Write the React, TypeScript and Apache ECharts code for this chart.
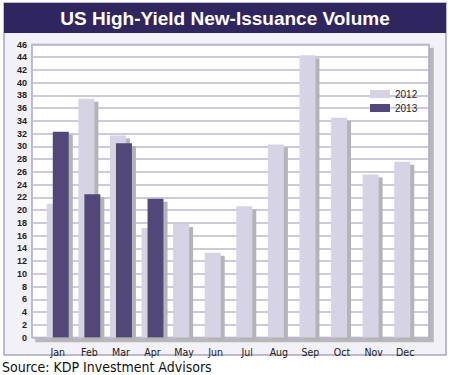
import React, { useEffect, useRef } from "react";
import * as echarts from "echarts";

const months = ["Jan", "Feb", "Mar", "Apr", "May", "Jun", "Jul", "Aug", "Sep", "Oct", "Nov", "Dec"];
const vol2012 = [21.0, 37.5, 31.7, 17.2, 17.8, 13.3, 20.6, 30.3, 44.3, 34.5, 25.6, 27.6];
const vol2013 = [32.3, 22.5, 30.5, 21.8, null, null, null, null, null, null, null, null];
const yMin = 0;
const yMax = 46;
const yStep = 2;

export default function App() {
  const ref = useRef<HTMLDivElement>(null);
  useEffect(() => {
    document.body.style.margin = "0";
    const chart = echarts.init(ref.current!, null, { renderer: "svg" });
    const shadow = { shadowColor: "#b4b4b4", shadowOffsetX: 4, shadowOffsetY: 3, shadowBlur: 0 };
    chart.setOption({
      animation: false,
      backgroundColor: "#ffffff",
      graphic: [
        {
          type: "rect",
          z: -100,
          shape: { x: 4, y: 3, width: 442, height: 352 },
          style: { fill: "#f2f1f7", stroke: "#a9a4c8", lineWidth: 1.5 },
        },
        {
          type: "rect",
          z: -90,
          shape: { x: 4, y: 3, width: 442, height: 30 },
          style: { fill: "#30265f" },
        },
        {
          type: "text",
          x: 225,
          y: 18,
          style: {
            text: "US High-Yield New-Issuance Volume",
            fill: "#ffffff",
            font: "bold 19px 'Liberation Sans', Arial, sans-serif",
            textAlign: "center",
            textVerticalAlign: "middle",
          },
        },
        {
          type: "text",
          x: 2,
          y: 367,
          style: {
            text: "Source: KDP Investment Advisors",
            fill: "#111111",
            font: "14px 'DejaVu Sans Condensed', sans-serif",
            textAlign: "left",
            textVerticalAlign: "middle",
          },
        },
      ],
      legend: {
        orient: "vertical",
        left: 365,
        top: 84,
        itemWidth: 20,
        itemHeight: 8,
        itemGap: 4,
        icon: "rect",
        textStyle: { fontSize: 10, color: "#222", fontFamily: "'Liberation Sans', Arial, sans-serif" },
        data: ["2012", "2013"],
      },
      grid: [
        {
          left: 32,
          top: 44.5,
          width: 397,
          height: 293,
          show: true,
          backgroundColor: "#ffffff",
          borderColor: "#a9a5c9",
          borderWidth: 1.5,
          shadowColor: "#b8b8b8",
          shadowOffsetX: 4,
          shadowOffsetY: 4,
          shadowBlur: 0,
        },
        { left: 42, top: 44.5, width: 379, height: 293 },
      ],
      xAxis: [
        { type: "value", gridIndex: 0, show: false, min: 0, max: 1 },
        {
          type: "category",
          gridIndex: 1,
          data: months,
          axisLine: { show: false },
          axisTick: { show: false },
          axisLabel: { fontSize: 10.5, color: "#222", margin: 9, fontFamily: "'DejaVu Sans Condensed', sans-serif" },
        },
      ],
      yAxis: [
        {
          type: "value",
          gridIndex: 0,
          min: yMin,
          max: yMax,
          interval: yStep,
          axisLine: { show: false },
          axisTick: { show: false },
          axisLabel: { fontSize: 9, fontWeight: "bold", color: "#222", margin: 5, fontFamily: "'Liberation Sans', Arial, sans-serif" },
          splitLine: { lineStyle: { color: "#bdb9d6", width: 1.5 } },
        },
        { type: "value", gridIndex: 1, min: yMin, max: yMax, show: false, splitLine: { show: false } },
      ],
      series: [
        {
          name: "2012",
          type: "bar",
          xAxisIndex: 1,
          yAxisIndex: 1,
          data: vol2012,
          barWidth: 16,
          barGap: "-62.5%",
          itemStyle: { color: "#d6d4e4", ...shadow },
        },
        {
          name: "2013",
          type: "bar",
          xAxisIndex: 1,
          yAxisIndex: 1,
          data: vol2013,
          barWidth: 16,
          itemStyle: { color: "#52467a", ...shadow },
        },
      ],
    });
    return () => chart.dispose();
  }, []);
  return <div ref={ref} style={{ width: 450, height: 375 }} />;
}
